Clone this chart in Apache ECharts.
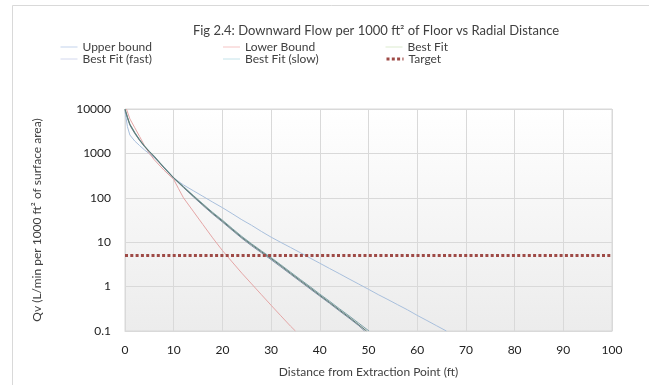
<!DOCTYPE html>
<html>
<head>
<meta charset="utf-8">
<script src="https://cdn.jsdelivr.net/npm/echarts@6/dist/echarts.min.js"></script>
<style>
    html, body { margin: 0; padding: 0; background: #fff; }
    #box1 { width: 649px; height: 385px; }
</style>
</head>
<body>
<div id="box1"></div>
<script>
// distances (ft) and Qv values
var upperX = [0, 0.5, 1, 2, 3, 4, 5, 6, 8, 10, 12, 14, 16, 18, 20, 22, 24, 26, 28, 30, 32, 34, 36, 38, 40, 42, 44, 46, 48, 50, 52, 54, 56, 58, 60, 62, 64, 66];
var upperY = [9000, 4000, 2600, 1900, 1500, 1200, 980, 800, 500, 280, 195, 145, 108, 80, 60, 44, 32, 24, 17.5, 13, 9.9, 7.6, 5.8, 4.4, 3.36, 2.56, 1.96, 1.49, 1.14, 0.87, 0.66, 0.51, 0.39, 0.30, 0.225, 0.172, 0.131, 0.1];

var lowerX = [0.3, 1, 2, 3, 4, 5, 6, 8, 10, 11, 12, 14, 16, 18, 20, 22, 24, 26, 28, 30, 32, 34, 35];
var lowerY = [10000, 6000, 3800, 2400, 1500, 1000, 720, 420, 260, 160, 100, 50, 25, 12.5, 6.5, 3.6, 2.0, 1.15, 0.66, 0.38, 0.22, 0.128, 0.1];

var fitX = [0, 0.5, 1, 2, 3, 4, 5, 6, 8, 10, 12, 14, 16, 18, 20, 22, 24, 26, 28, 30, 32, 34, 36, 38, 40, 42, 44, 46, 48, 49.6];
var fitY = [10000, 6500, 4500, 2900, 2000, 1450, 1100, 850, 480, 280, 175, 110, 70, 45, 30, 19.5, 12.8, 8.8, 6.1, 4.3, 2.95, 2.0, 1.37, 0.94, 0.64, 0.44, 0.3, 0.205, 0.138, 0.1];

var fastX = [0, 0.5, 1, 2, 3, 4, 5, 6, 8, 10, 12, 14, 16, 18, 20, 22, 24, 26, 28, 30, 32, 34, 36, 38, 40, 42, 44, 46, 48, 49.2];
var fastY = [9500, 6200, 4300, 2800, 1950, 1420, 1080, 830, 470, 275, 170, 106, 67, 43, 28.5, 18.6, 12.2, 8.3, 5.8, 4.05, 2.78, 1.9, 1.3, 0.89, 0.61, 0.42, 0.285, 0.195, 0.132, 0.1];

var slowX = [0, 0.5, 1, 2, 3, 4, 5, 6, 8, 10, 12, 14, 16, 18, 20, 22, 24, 26, 28, 30, 32, 34, 36, 38, 40, 42, 44, 46, 48, 50.1];
var slowY = [9800, 6700, 4600, 3000, 2050, 1480, 1120, 870, 490, 285, 180, 114, 73, 47, 31.5, 20.5, 13.5, 9.2, 6.4, 4.5, 3.1, 2.12, 1.45, 1.0, 0.68, 0.47, 0.32, 0.22, 0.15, 0.1];

var targetX = [0, 100];
var targetY = [5, 5];

var seriesNames = ['Upper bound', 'Lower Bound', 'Best Fit', 'Best Fit (fast)', 'Best Fit (slow)', 'Target'];
var legendColors = ['#c3d3ec', '#f5c4c4', '#dcebcf', '#d3d8ee', '#c4e3ea', '#9e4a46'];
var legendWidths = [1, 1, 1, 1, 1, 3];

function pairs(xs, ys) {
    var out = [];
    for (var i = 0; i < xs.length; i++) {
        out.push([xs[i], ys[i]]);
    }
    return out;
}

function lineSeries(name, xs, ys, color, width, dash) {
    return {
        name: name,
        type: 'line',
        data: pairs(xs, ys),
        symbol: 'none',
        showSymbol: false,
        smooth: false,
        clip: true,
        lineStyle: { color: color, width: width, type: dash || 'solid', cap: 'butt' },
        itemStyle: { color: color },
        emphasis: { disabled: true }
    };
}

var chart = echarts.init(document.getElementById('box1'));
var fontName = 'Lato';

var legendData = seriesNames.map(function (n, i) {
    return { name: n, lineStyle: { color: legendColors[i], width: legendWidths[i] }, itemStyle: { opacity: 0 } };
});

var option = {
    animation: false,
    backgroundColor: '#fff',
    graphic: [{
        type: 'rect',
        shape: { x: 12.5, y: 5.5, width: 700, height: 500 },
        style: { fill: 'none', stroke: '#d9d9d9', lineWidth: 1 },
        silent: true
    }],
    title: {
        text: 'Fig 2.4: Downward Flow per 1000 ft\u00b2 of Floor vs Radial Distance',
        left: 371,
        textAlign: 'center',
        top: 19,
        textStyle: { fontFamily: fontName, fontSize: 13, fontWeight: 'normal', color: '#404040' }
    },
    legend: {
        data: legendData,
        left: 60,
        top: 41,
        width: 490,
        itemWidth: 17,
        itemHeight: 8,
        itemGap: 0,
        padding: 0,
        itemStyle: { opacity: 0 },
        textStyle: { fontFamily: fontName, fontSize: 12, color: '#404040', width: 140, lineHeight: 10 }
    },
    grid: {
        left: 125,
        right: 37,
        top: 109,
        bottom: 54,
        show: true,
        borderColor: '#d9d9d9',
        borderWidth: 1,
        backgroundColor: new echarts.graphic.LinearGradient(0, 0, 0, 1, [
            { offset: 0, color: '#ffffff' },
            { offset: 1, color: '#ececec' }
        ])
    },
    xAxis: {
        type: 'value',
        min: 0,
        max: 100,
        interval: 10,
        name: 'Distance from Extraction Point (ft)',
        nameLocation: 'middle',
        nameGap: 35,
        nameTextStyle: { fontFamily: fontName, fontSize: 12, color: '#404040' },
        axisLine: { lineStyle: { color: '#d9d9d9' } },
        axisTick: { show: false },
        axisLabel: { fontFamily: fontName, fontSize: 12, color: '#222', margin: 13 },
        splitLine: { lineStyle: { color: '#d9d9d9', width: 1 } }
    },
    yAxis: {
        type: 'log',
        logBase: 10,
        min: 0.1,
        max: 10000,
        name: 'Qv (L/min per 1000 ft\u00b2 of surface area)',
        nameLocation: 'middle',
        nameGap: 82,
        nameRotate: 90,
        nameTextStyle: { fontFamily: fontName, fontSize: 12, color: '#404040' },
        axisLine: { show: false },
        axisTick: { show: false },
        axisLabel: {
            fontFamily: fontName, fontSize: 12, color: '#222', margin: 14,
            formatter: function (v) { return v < 1 ? v.toFixed(1) : String(Math.round(v)); }
        },
        splitLine: { lineStyle: { color: '#d9d9d9', width: 1 } }
    },
    series: [
        lineSeries(seriesNames[0], upperX, upperY, '#a8bfdc', 1),
        lineSeries(seriesNames[1], lowerX, lowerY, '#e4a5a5', 1),
        lineSeries(seriesNames[3], fastX, fastY, '#7c8da6', 1),
        lineSeries(seriesNames[4], slowX, slowY, '#7fa2ab', 1),
        lineSeries(seriesNames[2], fitX, fitY, '#5b7a6f', 1),
        lineSeries(seriesNames[5], targetX, targetY, '#9e4a46', 3, [3, 2.3])
    ]
};

chart.setOption(option);
</script>
</body>
</html>
